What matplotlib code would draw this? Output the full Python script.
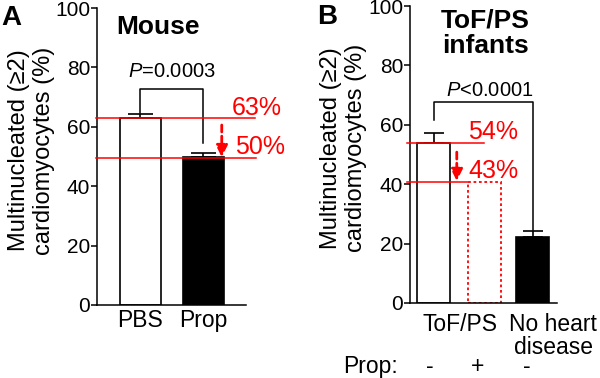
import matplotlib
matplotlib.use("Agg")
import matplotlib.pyplot as plt

plt.rcParams['font.family'] = ['Liberation Sans', 'DejaVu Sans']
plt.rcParams['mathtext.fontset'] = 'custom'
plt.rcParams['mathtext.rm'] = 'Liberation Sans'
plt.rcParams['mathtext.it'] = 'Liberation Sans:italic'

# panel A - mouse
mouse_groups = ['PBS', 'Prop']
mouse_vals = [63.0, 49.8]
mouse_err = [1.4, 1.3]
mouse_pct = [63, 50]      # red reference lines / labels
mouse_lines = [63.0, 49.5]

# panel B - ToF/PS infants
inf_vals = [54.0, 40.6, 22.3]   # ToF/PS, ToF/PS + Prop (projected), no heart disease
inf_err = [3.1, 0, 2.0]
inf_pct = [54, 43]
inf_lines = [54.0, 40.8]
prop_signs = ['-', '+', '-']

red = '#ff0000'
lw = 1.2

fig = plt.figure(figsize=(6, 3.78), dpi=100)
axA = fig.add_axes([97/600, 1-305/378, 149/600, 297/378])
axB = fig.add_axes([410/600, 1-303/378, 147/600, 297/378])

for ax in (axA, axB):
    ax.spines['top'].set_visible(False)
    ax.spines['right'].set_visible(False)
    ax.spines['left'].set_linewidth(1.1)
    ax.spines['bottom'].set_linewidth(1.1)
    ax.set_ylim(0, 100)
    ax.set_yticks([0, 20, 40, 60, 80, 100])
    ax.tick_params(axis='y', labelsize=15, length=4, width=1.1, pad=1)
    ax.tick_params(axis='x', length=0, labelsize=16.5, pad=3)
    ax.set_ylabel('Multinucleated (≥2)\ncardiomyocytes (%)', fontsize=17,
                  linespacing=1.2)

# ---- A ----
ax = axA
ax.set_xlim(-0.69, 1.675)
ax.bar([0, 1], mouse_vals, width=0.65, color=['white', 'black'],
       edgecolor='black', linewidth=lw, zorder=2)
ax.errorbar([0, 1], mouse_vals, yerr=[[0, 0], mouse_err], fmt='none',
            ecolor='black', elinewidth=lw, capsize=9, capthick=lw, zorder=1)
ax.set_xticks([0, 1])
ax.set_xticklabels(mouse_groups)
ax.yaxis.set_label_coords(-0.282, 0.52)

ax.plot([-0.71, 1.81], [mouse_lines[0]] * 2, color=red, lw=1.1, clip_on=False, zorder=3)
ax.plot([-0.71, 1.84], [mouse_lines[1]] * 2, color=red, lw=1.1, clip_on=False, zorder=3)
ax.text(1.45, 66.3, f'{mouse_pct[0]}%', color=red, fontsize=18, va='center', ha='left')
ax.text(1.5, 53.2, f'{mouse_pct[1]}%', color=red, fontsize=18, va='center', ha='left')
ax.annotate('', xy=(1.29, mouse_lines[1] + 0.3), xytext=(1.29, 60.6),
            arrowprops=dict(arrowstyle='-|>,head_width=0.35,head_length=0.7',
                            ls=(0, (2.5, 1.5)), color=red, lw=2,
                            shrinkA=0, shrinkB=0), annotation_clip=False)

# significance bracket
ax.plot([0, 0, 1, 1], [64.6, 72.7, 72.7, 54.5], color='black', lw=1.1)
ax.text(0.5, 75.5, r'$\mathit{P}$=0.0003', fontsize=14.5, ha='center', va='bottom')

# ---- B ----
ax = axB
ax.set_xlim(-0.475, 2.495)
ax.bar([0, 2], [inf_vals[0], inf_vals[2]], width=0.66, color=['white', 'black'],
       edgecolor='black', linewidth=lw, zorder=2)
ax.bar([1.03], [inf_vals[1]], width=0.65, facecolor='none', edgecolor=red,
       linestyle=(0, (1.5, 1.5)), linewidth=1.3, zorder=2)
ax.errorbar([0, 2], [inf_vals[0], inf_vals[2]], yerr=[[0, 0], [inf_err[0], inf_err[2]]],
            fmt='none', ecolor='black', elinewidth=lw, capsize=7, capthick=lw, zorder=1)
ax.set_xticks([])
ax.yaxis.set_label_coords(-0.29, 0.522)

ax.plot([-0.54, 1.02], [inf_lines[0]] * 2, color=red, lw=1.1, clip_on=False, zorder=3)
ax.plot([-0.54, 0.70], [inf_lines[1]] * 2, color=red, lw=1.1, clip_on=False, zorder=3)
ax.text(0.70, 57.5, f'{inf_pct[0]}%', color=red, fontsize=18, va='center', ha='left')
ax.text(0.70, 44.3, f'{inf_pct[1]}%', color=red, fontsize=18, va='center', ha='left')
ax.annotate('', xy=(0.47, inf_lines[1] + 0.3), xytext=(0.47, 50.8),
            arrowprops=dict(arrowstyle='-|>,head_width=0.35,head_length=0.7',
                            ls=(0, (2.5, 1.5)), color=red, lw=2,
                            shrinkA=0, shrinkB=0), annotation_clip=False)

ax.plot([0, 0, 2, 2], [61.6, 67.8, 67.8, 24.6], color='black', lw=1.1)
ax.text(1.14, 68.5, r'$\mathit{P}$<0.0001', fontsize=14.5, ha='center', va='bottom')

tr = ax.get_xaxis_transform()
ax.text(0.54, -0.035, 'ToF/PS', transform=tr, fontsize=16.5, ha='center', va='top')
ax.text(2.42, -0.035, 'No heart\ndisease', transform=tr, fontsize=16.5, ha='center',
        va='top', linespacing=1.0, clip_on=False)
ax.text(-1.83, -0.215, 'Prop:', transform=tr, fontsize=16.5, ha='left', va='center')
for xs, s in zip([-0.07, 0.88, 1.89], prop_signs):
    ax.text(xs, -0.215, s, transform=tr, fontsize=16.5, ha='center', va='center')

# panel titles
fig.text(158/600, 1-27/378, 'Mouse', fontsize=19, fontweight='bold', ha='center', va='center')
fig.text(1/600, 1-18/378, 'A', fontsize=20, fontweight='bold', ha='left', va='center')
fig.text(485/600, 1-33/378, 'ToF/PS\ninfants', fontsize=19, fontweight='bold',
         ha='center', va='center', linespacing=1.1)
fig.text(317/600, 1-17/378, 'B', fontsize=20, fontweight='bold', ha='left', va='center')

fig.savefig('out.png', dpi=100)
